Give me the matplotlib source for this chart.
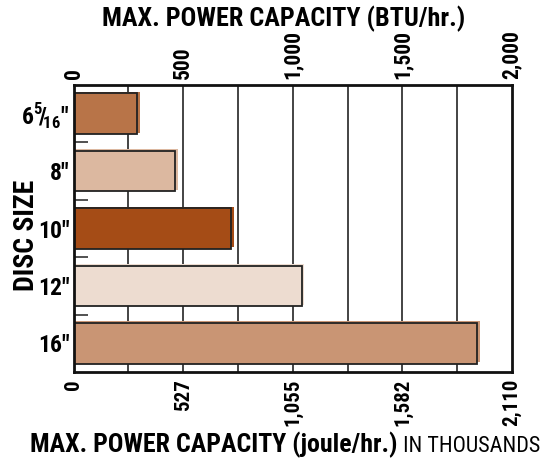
import matplotlib
matplotlib.use("Agg")
import matplotlib.pyplot as plt
from matplotlib import font_manager as fm

faces = {}
for f in fm.fontManager.ttflist:
    faces.setdefault(f.name, set()).add(f.weight)
prefs = ['Liberation Sans Narrow', 'Archivo Narrow', 'Roboto Condensed',
         'PT Sans Narrow', 'Barlow Semi Condensed', 'Fira Sans Condensed',
         'Open Sans Condensed', 'DejaVu Sans']
FONT = next(p for p in prefs if p in faces and (700 in faces[p] or p == 'DejaVu Sans'))
plt.rcParams['font.family'] = [FONT, 'DejaVu Sans']
plt.rcParams['mathtext.fontset'] = 'custom'
plt.rcParams['mathtext.rm'] = FONT + ':bold'
plt.rcParams['mathtext.bf'] = FONT + ':bold'

# data
categories = [r'6$^{5}\!/\!_{16}$"', '8"', '10"', '12"', '16"']
btu_values = [290, 465, 720, 1040, 1840]
colors = ['#B87448', '#DCB8A0', '#A54C16', '#EDDCD0', '#C99574']
btu_ticks = [0, 500, 1000, 1500, 2000]
btu_labels = ['0', '500', '1,000', '1,500', '2,000']
joule_labels = ['0', '527', '1,055', '1,582', '2,110']
grid_step = 250

fig = plt.figure(figsize=(5.43, 4.61), dpi=100)
ax = fig.add_axes([73.5 / 543, 1 - 372 / 461, (512 - 73.5) / 543, (372 - 85) / 461])

ax.set_xlim(0, 2000)
ax.set_ylim(len(categories) - 0.5, -0.5)
ax.set_axisbelow(True)

for g in range(grid_step, 2000, grid_step):
    ax.axvline(g, color='#111111', lw=1.1, zorder=0)

ypos = list(range(len(categories)))
h = 0.71
# shadow
ax.barh([y - 0.025 for y in ypos], [v + 12 for v in btu_values], height=h,
        color=colors, edgecolor='none', zorder=1)
ax.barh(ypos, btu_values, height=h, color=colors, edgecolor='#222222',
        linewidth=1.3, zorder=2)

TICK_FS = 15
ax.set_yticks(ypos)
ax.set_yticklabels(categories, fontsize=17, fontweight='bold')
ax.set_yticks([y + 0.5 for y in ypos[:-1]], minor=True)
ax.tick_params(axis='y', which='major', length=0, pad=3)
ax.tick_params(axis='y', which='minor', direction='in', length=10, width=1.2,
               color='#333333')

ax.set_xticks(btu_ticks)
ax.set_xticklabels(joule_labels, rotation=90, fontsize=TICK_FS, fontweight='bold',
                   va='top')
ax.tick_params(axis='x', length=0, pad=5)

top = ax.secondary_xaxis('top')
top.set_xticks(btu_ticks)
top.set_xticklabels(btu_labels, rotation=90, fontsize=TICK_FS + 0.5, fontweight='bold',
                    va='bottom')
top.tick_params(length=0, pad=4)
top.spines['top'].set_visible(False)

for s in ax.spines.values():
    s.set_linewidth(2)
    s.set_color('#111111')


def fit(t, target_px, vertical=False):
    fig.canvas.draw()
    bb = t.get_window_extent()
    cur = bb.height if vertical else bb.width
    t.set_fontsize(t.get_fontsize() * target_px / cur)


tt = fig.text(284 / 543, 1 - 19 / 461, 'MAX. POWER CAPACITY (BTU/hr.)', ha='center',
              va='center', fontsize=20, fontweight='bold')
fit(tt, 362)
ty = fig.text(27 / 543, 1 - 235 / 461, 'DISC SIZE', rotation=90, ha='center',
              va='center', fontsize=20, fontweight='bold')
fit(ty, 111, vertical=True)
t1 = fig.text(30 / 543, 1 - 452 / 461, 'MAX. POWER CAPACITY (joule/hr.)',
              ha='left', va='baseline', fontsize=20, fontweight='bold')
fit(t1, 367)
fig.canvas.draw()
bb = t1.get_window_extent()
t2 = fig.text(bb.x1 / fig.bbox.width, 1 - 452 / 461, ' IN THOUSANDS', fontsize=15,
              va='baseline', ha='left')
fit(t2, 540 - bb.x1)

fig.savefig('out.png', dpi=100)
